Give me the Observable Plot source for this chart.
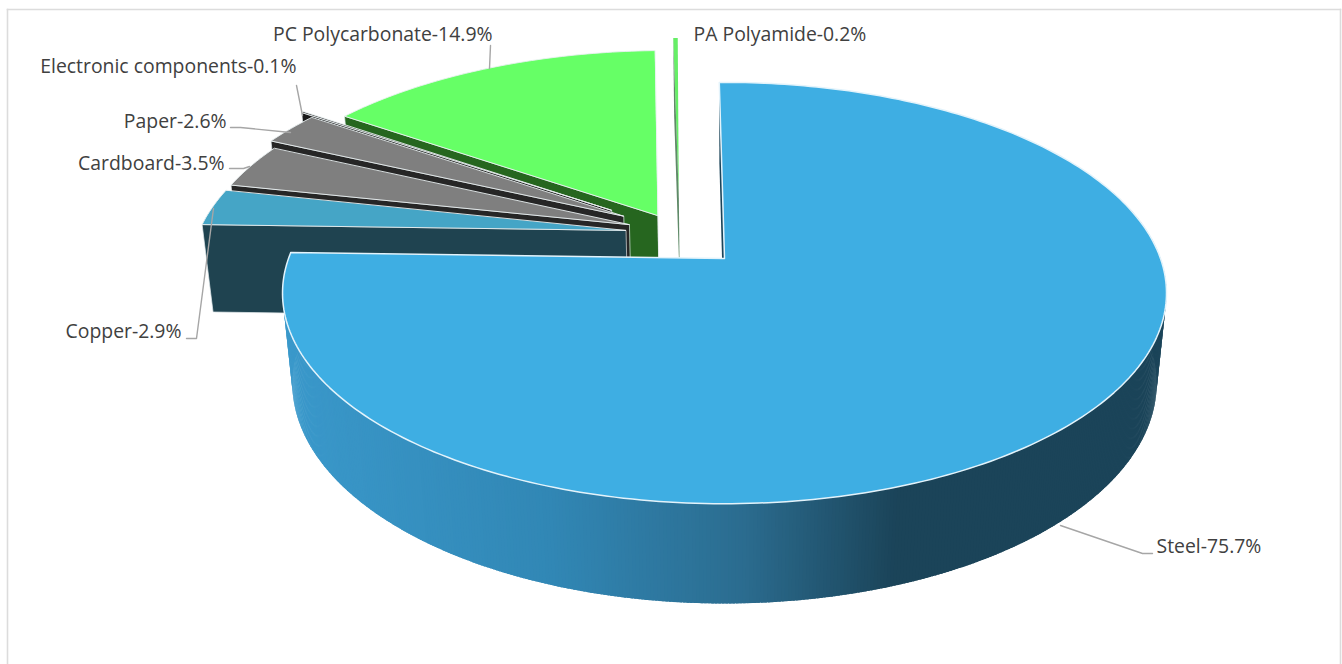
<!DOCTYPE html>
<html><head><meta charset="utf-8">
<script src="https://cdn.jsdelivr.net/npm/d3@7"></script>
<script src="https://cdn.jsdelivr.net/npm/@observablehq/plot@0.6"></script>
<style>html,body{margin:0;padding:0;background:#fff}svg{display:block}</style>
</head><body><div id="c"></div>
<script>
// values
const materials = ["Steel","Copper","Cardboard","Paper","Electronic components","PC Polycarbonate","PA Polyamide"];
const shares = [75.7,2.9,3.5,2.6,0.1,14.9,0.2];

// layout
const startAngle = -0.8;
const cx=724, cy=258, a=436, b=205, k=0.164, m=0.022, c=91/205;
const explode = {                 // offset of each slice in the pie's plane
  "Steel":[0,0],
  "Copper":[-.232,-.14],
  "Cardboard":[-.225,-.17],
  "Paper":[-.24,-.214],
  "Electronic components":[-.27,-.245],
  "PC Polycarbonate":[-.159,-.217],
  "PA Polyamide":[-.11,-.307]
};
const topFill = {"Steel":"#3eaee3","Copper":"#45a5c6","Cardboard":"#7f7f7f","Paper":"#7f7f7f","Electronic components":"#3a3a3a","PC Polycarbonate":"#66ff66","PA Polyamide":"#66ee66"};
const wallFill = {"Steel":"#1b4459","Copper":"#1f4350","Cardboard":"#262626","Paper":"#262626","Electronic components":"#1a1a1a","PC Polycarbonate":"#26661f","PA Polyamide":"#5f8a68"};
const labelLayout = {
  "Steel":{x:1156,y:546,anchor:"start",leader:[[1060,525],[1142,553],[1152,553]]},
  "Copper":{x:181,y:331,anchor:"end",leader:[[186,338],[196,338],[213,208]]},
  "Cardboard":{x:224,y:163,anchor:"end",leader:[[229,168],[243,168],[249,166]]},
  "Paper":{x:226,y:121,anchor:"end",leader:[[230,127],[240,127],[290,132]]},
  "Electronic components":{x:296,y:66,anchor:"end",leader:[[296,85],[302,115]]},
  "PC Polycarbonate":{x:492,y:34,anchor:"end",leader:[[490,45],[489,68]]},
  "PA Polyamide":{x:693,y:34,anchor:"start",leader:[]}
};

// pie plane -> projected units (perspective)
const proj=(u,v,z=0)=>{const W=1-k*v+m*z;return {x:u/W,y:(v+c*z)/W};};
const invX=px=>(px-cx)/a, invY=py=>(py-cy)/b;
const rim=(name,deg,z=0)=>{const [ou,ov]=explode[name],t=deg*Math.PI/180;return proj(ou+Math.sin(t),ov-Math.cos(t),z);};
const apex=(name,z=0)=>{const [ou,ov]=explode[name];return proj(ou,ov,z);};

// angular extent of each slice
let acc=startAngle;
const slices=materials.map((name,i)=>{const s=acc,e=acc+shares[i]*3.6;acc=e;return {name,s,e};});
const range=(s,e,st)=>{const r=[];for(let d=s;d<e;d+=st)r.push(d);r.push(e);return r;};

const topRows=[], faceRows=[], stripRows=[];
const shade=d3.scaleLinear().domain([-1,-.4,.05,.4,1]).range(["#3a98ca","#3187b5","#2b6c8f","#1b4459","#1b4459"]).clamp(true);
slices.forEach(({name,s,e})=>{
  const pts=[apex(name),...range(s,e,1).map(d=>rim(name,d))];
  pts.forEach(p=>topRows.push({...p,id:name,fill:topFill[name]}));
  [apex(name),rim(name,s),rim(name,s,1),apex(name,1)].forEach(p=>faceRows.push({...p,id:name,fill:wallFill[name]}));
});
const steel=slices[0];
range(70,steel.e,.4).slice(0,-1).forEach((d,i)=>{
  const d2=Math.min(d+.7,steel.e);
  const col=shade(rim("Steel",d).x);
  [rim("Steel",d),rim("Steel",d2),rim("Steel",d2,1),rim("Steel",d,1)].forEach(p=>stripRows.push({...p,id:i,fill:col}));
});

const faceMark=n=>Plot.line(faceRows.filter(r=>r.id===n),{x:"x",y:"y",z:"id",fill:"fill",stroke:n==="PA Polyamide"?"none":"#dfe6ea",strokeWidth:.7,curve:"linear-closed"});
const topMark=n=>Plot.line(topRows.filter(r=>r.id===n),{x:"x",y:"y",z:"id",fill:"fill",stroke:n==="PA Polyamide"?"none":"#eaf0f2",strokeWidth:.9,curve:"linear-closed"});
const order=["PC Polycarbonate","Electronic components","Paper","Cardboard","Copper"];
const sliceMarks=[topMark("PA Polyamide"),faceMark("PA Polyamide"),...order.flatMap(n=>[faceMark(n),topMark(n)])];

const labelRows=slices.map((sl,i)=>({x:invX(labelLayout[sl.name].x),y:invY(labelLayout[sl.name].y),text:`${sl.name}-${shares[i]}%`,anchor:labelLayout[sl.name].anchor}));
const leaderRows=materials.flatMap(n=>labelLayout[n].leader.map(([px,py])=>({x:invX(px),y:invY(py),id:n})));

const chart=Plot.plot({
  width:1342,height:664,marginLeft:7,marginTop:9,marginRight:2,marginBottom:0,
  style:{background:"#fff"},
  x:{axis:null,domain:[-1,1],range:[cx-a,cx+a]},
  y:{axis:null,domain:[-1,1],range:[cy-b,cy+b]},
  color:{type:"identity"},
  marks:[
    Plot.frame({anchor:"left",stroke:"#dcdcdc",strokeWidth:1.6}),
    Plot.frame({anchor:"top",stroke:"#dcdcdc",strokeWidth:1.6}),
    Plot.frame({anchor:"right",stroke:"#dcdcdc",strokeWidth:1.6}),
    ...sliceMarks,
    Plot.line(faceRows.filter(r=>r.id==="Steel"),{x:"x",y:"y",z:"id",fill:"fill",curve:"linear-closed"}),
    Plot.line(stripRows,{x:"x",y:"y",z:"id",fill:"fill",curve:"linear-closed"}),
    Plot.line(topRows.filter(r=>r.id==="Steel"),{x:"x",y:"y",z:"id",fill:"fill",stroke:"#e3f3fb",strokeWidth:1.5,curve:"linear-closed"}),
    Plot.line(leaderRows,{x:"x",y:"y",z:"id",stroke:"#a6a6a6",strokeWidth:1.4}),
    ...["start","end"].map(an=>Plot.text(labelRows.filter(r=>r.anchor===an),{x:"x",y:"y",text:"text",textAnchor:an,fontSize:19.4,fontFamily:"'Open Sans'",fill:"#404040"}))
  ]
});
document.getElementById("c").appendChild(chart);
</script></body></html>
